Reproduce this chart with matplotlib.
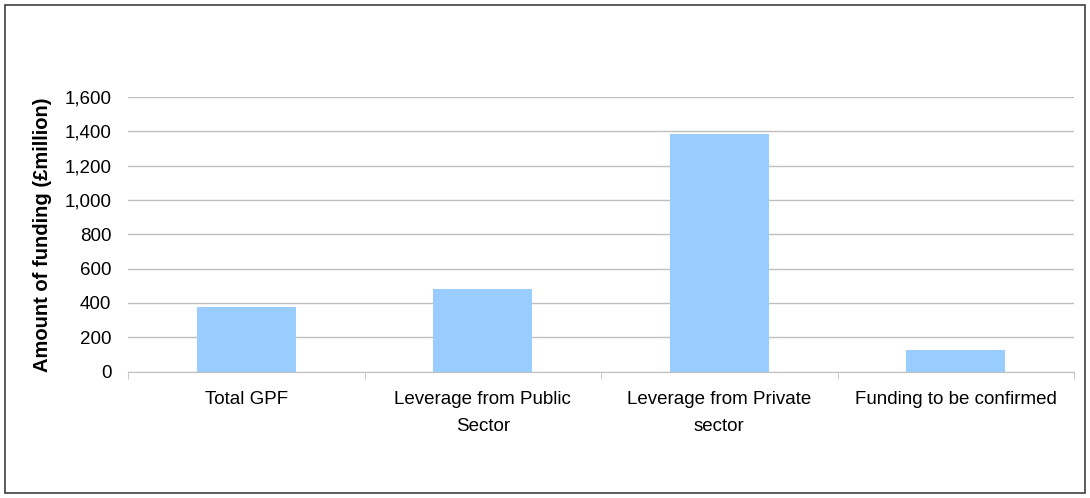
import matplotlib
matplotlib.use("Agg")
from matplotlib import pyplot as plt
from matplotlib.patches import Rectangle
from matplotlib.ticker import FuncFormatter
import numpy as np

categories = ["Total GPF", "Leverage from Public\nSector", "Leverage from Private\nsector",
              "Funding to be confirmed"]
values = [376, 482, 1384, 125]
y_ticks = [0, 200, 400, 600, 800, 1000, 1200, 1400, 1600]

plt.rcParams["font.family"] = ["Liberation Sans", "DejaVu Sans"]

fig = plt.figure(figsize=(10.9, 4.98), dpi=100)
# outer frame of the chart
fig.patches.append(Rectangle((5 / 1090, 5 / 498), 1080 / 1090, 488 / 498,
                             transform=fig.transFigure, fill=False,
                             edgecolor="#404040", linewidth=1.2))

ax = fig.add_axes([128 / 1090, (498 - 371.5) / 498, 946 / 1090, 274.5 / 498])
x = np.arange(len(categories))
ax.bar(x, values, width=0.42, color="#99ccff", zorder=3)

ax.set_xlim(-0.5, len(categories) - 0.5)
ax.set_ylim(0, 1600)
ax.set_yticks(y_ticks)
ax.yaxis.set_major_formatter(FuncFormatter(lambda v, p: f"{int(v):,}"))
ax.grid(axis="y", color="#c0c0c0", linewidth=1, zorder=0)

ax.set_xticks(x)
ax.set_xticklabels(categories, fontsize=13.5, linespacing=1.75)
ax.set_xticks(np.arange(-0.5, len(categories)), minor=True)
ax.tick_params(axis="x", which="major", length=0, pad=14)
ax.tick_params(axis="x", which="minor", length=5, color="#c0c0c0")
ax.tick_params(axis="y", length=0, labelsize=13.5, pad=12)

for s in ["top", "right", "left"]:
    ax.spines[s].set_visible(False)
ax.spines["bottom"].set_color("#c0c0c0")

ax.set_ylabel("Amount of funding (£million)", fontsize=14.5, fontweight="bold", labelpad=9)

fig.savefig("out.png", dpi=100)
